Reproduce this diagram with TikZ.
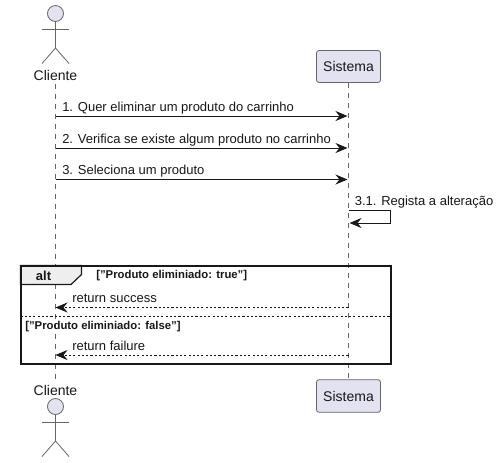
\documentclass[tikz,border=0pt]{standalone}
\usepackage{fontspec}
\setmainfont{Liberation Sans}
\usetikzlibrary{arrows.meta,calc}
\definecolor{actorfill}{HTML}{E2E2F0}
\definecolor{ink}{HTML}{181818}
\definecolor{grayline}{HTML}{666666}
\definecolor{tabfill}{HTML}{EEEEEE}
\tikzset{
  x=0.75pt,y=-0.75pt,
  lifeline/.style={draw=grayline,line width=0.5pt,dash pattern=on 3.75pt off 3.75pt},
  actorline/.style={draw=grayline,line width=0.6pt,fill=actorfill},
  actorlimb/.style={draw=grayline,line width=0.6pt},
  partbox/.style={draw=grayline,fill=actorfill,rounded corners=1.9pt,line width=0.6pt,minimum width=48pt,inner sep=0pt,font=\fontsize{10.5}{12}\selectfont,text=ink},
  actorlabel/.style={font=\fontsize{10.5}{12}\selectfont,text=ink,inner sep=0pt},
  msglabel/.style={font=\fontsize{9.75}{12}\selectfont,text=ink,inner sep=0pt,anchor=base west},
  guardlabel/.style={font=\fontsize{8.5}{10}\bfseries\selectfont,text=ink,inner sep=0pt,anchor=base west},
  msg/.style={draw=ink,line width=0.75pt,shorten >=0.75pt,-{Stealth[length=9pt,width=7.5pt,inset=3pt]}},
  retmsg/.style={draw=ink,line width=0.55pt,dash pattern=on 1.6pt off 1.6pt,-{Stealth[length=9pt,width=7.5pt,inset=3pt,fill=ink]}},
  framebox/.style={draw=ink,line width=1.5pt},
}
\begin{document}
\begin{tikzpicture}
\useasboundingbox (0,0) rectangle (499,462);
\fill[white] (0,0) rectangle (499,462);

% participants
\node[actorlabel] (cTop) at (55.5,75) {Cliente};
\node[actorlabel] (cBot) at (55.5,390) {Cliente};
\node[partbox,minimum height=24pt] (sTop) at (348.5,66.5) {Sistema};
\node[partbox,minimum height=24.5pt] (sBot) at (348.5,396) {Sistema};

% lifelines
\coordinate (cl1) at (55.5,84);
\coordinate (cl2) at (55.5,380);
\draw[lifeline] (cl1) -- (cl2);
\draw[lifeline] (sTop.south) -- (sBot.north);

% actors
\foreach \nm/\hy in {a/13.5,b/406.5}{
  \node[circle,actorline,minimum size=12pt,inner sep=0pt] (head\nm) at (55.5,\hy) {};
  \coordinate (arms\nm) at (55.5,\hy+15.5);
  \coordinate (hip\nm) at (55.5,\hy+34.5);
  \draw[actorlimb] (head\nm.south) -- (hip\nm);
  \draw[actorlimb] ($(arms\nm)+(-13.5,0)$) -- ($(arms\nm)+(13.5,0)$);
  \draw[actorlimb] ($(hip\nm)+(-13.5,15.5)$) -- (hip\nm) -- ($(hip\nm)+(13.5,15.5)$);
}

% message anchor points
\foreach \n/\y in {1/116,2/148,3/179.5,4/307.5,5/355}{
  \coordinate (c\n) at (55.5,\y);
  \coordinate (s\n) at (348.5,\y);
}
\coordinate (selfA) at (348.5,210.5);
\coordinate (selfB) at (390.5,210.5);
\coordinate (selfC) at (390.5,223);
\coordinate (selfD) at (348.5,223);

% messages
\draw[msg] (c1) -- (s1);
\node[msglabel] (m1) at (62,111) {1. Quer eliminar um produto do carrinho};
\draw[msg] (c2) -- (s2);
\node[msglabel] (m2) at (62,143) {2. Verifica se existe algum produto no carrinho};
\draw[msg] (c3) -- (s3);
\node[msglabel] (m3) at (62,174.5) {3. Seleciona um produto};
\draw[msg] (selfA) -- (selfB) -- (selfC) -- (selfD);
\node[msglabel] (m4) at (354.5,205.5) {3.1. Regista a alteração};

% alt frame
\coordinate (fTL) at (20.5,265.5);
\coordinate (fBR) at (390.5,363.5);
\coordinate (divL) at (20.5,316.5);
\coordinate (divR) at (390.5,316.5);
\filldraw[draw=ink,fill=tabfill,line width=0.9pt] (fTL) -- (81.5,265.5) -- (81.5,274.5) -- (71,284.5) -- (20.5,284.5) -- cycle;
\draw[framebox] (fTL) rectangle (fBR);
\node[font=\fontsize{9.75}{12}\bfseries\selectfont,text=ink,inner sep=0pt] (altlabel) at (43.5,275.5) {alt};
\node[guardlabel] (g1) at (96,278) {["Produto eliminiado: true"]};
\draw[draw=ink,line width=0.55pt,dash pattern=on 1.6pt off 1.6pt] (divL) -- (divR);
\node[guardlabel] (g2) at (25,329) {["Produto eliminiado: false"]};

\draw[retmsg] (s4) -- (c4);
\node[msglabel] (r1) at (72,302.5) {return success};
\draw[retmsg] (s5) -- (c5);
\node[msglabel] (r2) at (72,350) {return failure};
\end{tikzpicture}
\end{document}
